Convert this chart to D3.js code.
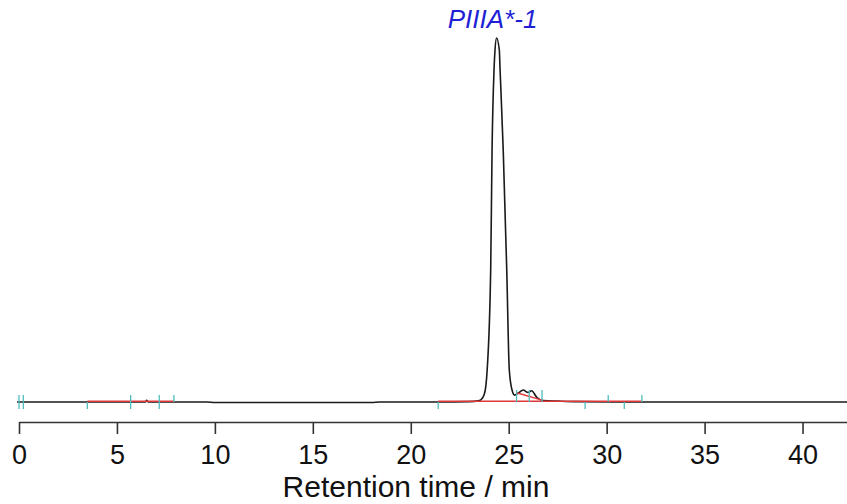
<!DOCTYPE html>
<html>
<head>
<meta charset="utf-8">
<script src="https://cdn.jsdelivr.net/npm/d3@7"></script>
<style>
  body { margin: 0; background: #fff; }
  svg text { font-family: "Liberation Sans", Arial, sans-serif; }
</style>
</head>
<body>
<div id="chart"></div>
<script>
// chromatogram trace (time in min, signal in % of main peak)
var timeMin = [-0.1, 3.5, 6.45, 6.52, 6.6, 9.6, 10, 18, 18.4, 21.4, 23.0, 23.43, 23.58, 23.74, 23.84,
  23.90, 24.08, 24.15, 24.25, 24.30, 24.38, 24.52, 24.56, 24.72, 24.90, 25.03, 25.17, 25.30,
  25.48, 25.74, 25.99, 26.17, 26.43, 26.75, 27.5, 28.5, 32, 42.3];
var signal = [0, 0, 0, 0.5, 0, 0, -0.15, -0.15, 0, 0, 0.1, 0.3, 0.6, 1.9, 4.7,
  8.8, 36.3, 69.2, 91.2, 96.7, 100, 96.7, 91.2, 69.2, 36.3, 8.8, 3.3, 1.9,
  2.4, 3.3, 2.6, 3.1, 1.3, 0.4, 0.25, 0.1, 0, 0];

// integration marks (teal): time and which side of the trace
var markTimes = [0.0, 0.22, 3.49, 5.70, 7.16, 7.91, 21.4, 25.4, 26.05, 26.7, 28.9, 30.08, 30.9, 31.8];
var markSides = ['both', 'both', 'down', 'both', 'both', 'up', 'down', 'up', 'up', 'up', 'down', 'up', 'down', 'up'];

// integration baselines (red)
var baseStart = [3.49, 21.4, 25.4];
var baseEnd = [7.91, 31.8, 26.7];
var baseStartVal = [0, 0, 2.3];
var baseEndVal = [0, 0, 0.3];

var xTicks = [0, 5, 10, 15, 20, 25, 30, 35, 40];
var peakName = 'PIIIA*-1';
var peakTime = 24.38;
var axisTitle = 'Retention time / min';

var width = 847, height = 504;

var svg = d3.select('#chart').append('svg')
  .attr('width', width)
  .attr('height', height);

var x = d3.scaleLinear().domain([0, 42.27]).range([19, 847]);
var y = d3.scaleLinear().domain([0, 100]).range([402, 38]);

var trace = timeMin.map(function (t, i) { return [t, signal[i]]; });

var line = d3.line()
  .x(function (d) { return x(d[0]); })
  .y(function (d) { return y(d[1]); })
  .curve(d3.curveMonotoneX);

// the trace
svg.append('path')
  .datum(trace)
  .attr('d', line)
  .attr('fill', 'none')
  .attr('stroke', '#1a1a1a')
  .attr('stroke-width', 1.6)
  .attr('stroke-linejoin', 'round');

// red baselines
svg.selectAll('line.base').data(baseStart)
  .enter().append('line')
  .attr('class', 'base')
  .attr('x1', function (d) { return x(d); })
  .attr('y1', function (d, i) { return y(baseStartVal[i]) - 0.8; })
  .attr('x2', function (d, i) { return x(baseEnd[i]); })
  .attr('y2', function (d, i) { return y(baseEndVal[i]) - 0.8; })
  .attr('stroke', '#e03838')
  .attr('stroke-width', 1.5);

// teal marks
svg.selectAll('line.mark').data(markTimes)
  .enter().append('line')
  .attr('class', 'mark')
  .attr('x1', function (d) { return x(d); })
  .attr('x2', function (d) { return x(d); })
  .attr('y1', function (d, i) {
    var v = y(0);
    if (markSides[i] === 'down') return v;
    return v - (d > 25 && d < 27 ? 12 : 7);
  })
  .attr('y2', function (d, i) {
    var v = y(0);
    if (markSides[i] === 'up') return v;
    return v + 7;
  })
  .attr('stroke', '#4fbcbc')
  .attr('stroke-width', 1.3);

// x axis
var xAxis = d3.axisBottom(x)
  .tickValues(xTicks)
  .tickSizeInner(12)
  .tickSizeOuter(0)
  .tickPadding(11);

var gx = svg.append('g')
  .attr('transform', 'translate(0,422)')
  .call(xAxis);

gx.select('.domain').attr('stroke', '#333').attr('stroke-width', 1.6);
gx.selectAll('.tick line').attr('stroke', '#333').attr('stroke-width', 1.6);
gx.selectAll('.tick text')
  .attr('fill', '#111')
  .style('font-size', '27px')
  .style('font-family', '"Liberation Sans", Arial, sans-serif');

svg.append('text')
  .attr('x', 416)
  .attr('y', 497)
  .attr('text-anchor', 'middle')
  .attr('fill', '#111')
  .style('font-size', '30px')
  .text(axisTitle);

// peak label
svg.append('text')
  .attr('x', x(peakTime) - 4)
  .attr('y', 28)
  .attr('text-anchor', 'middle')
  .attr('fill', '#1f1fd6')
  .style('font-size', '26px')
  .style('font-style', 'italic')
  .text(peakName);
</script>
</body>
</html>
